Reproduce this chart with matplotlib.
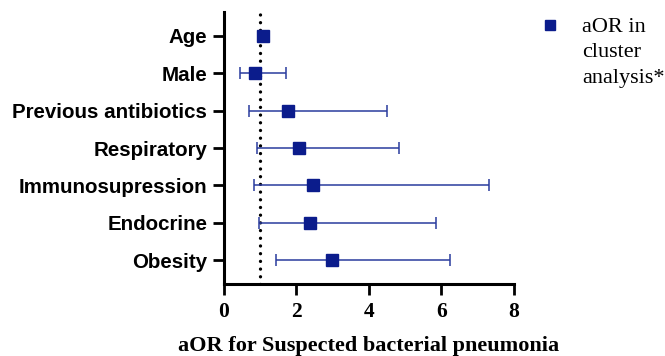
import matplotlib
matplotlib.use("Agg")
import matplotlib.pyplot as plt
from matplotlib.lines import Line2D
import numpy as np

# Adjusted odds ratios with 95% confidence intervals
categories = ["Age", "Male", "Previous antibiotics", "Respiratory",
              "Immunosupression", "Endocrine", "Obesity"]
aor = [1.08, 0.86, 1.77, 2.08, 2.46, 2.38, 2.99]
ci_low = [1.06, 0.44, 0.70, 0.91, 0.83, 0.97, 1.44]
ci_high = [1.10, 1.71, 4.51, 4.83, 7.31, 5.85, 6.23]
xticks = [0, 2, 4, 6, 8]
legend_label = "aOR in\ncluster\nanalysis*"

marker_color = "#0b1c8c"
bar_color = "#2a3c9e"

fig = plt.figure(figsize=(6.65, 3.56), dpi=100)
ax = fig.add_axes([0.3368, 0.2022, 0.4361, 0.7640])

n = len(categories)
ypos = np.arange(n, 0, -1)
aor_arr = np.array(aor)
xerr = np.vstack([aor_arr - np.array(ci_low), np.array(ci_high) - aor_arr])

# reference line at OR = 1
ax.axvline(1, color="black", linewidth=2.4, linestyle=(0, (0.01, 2.3)),
           dash_capstyle="round", zorder=1)

ax.errorbar(aor, ypos, xerr=xerr, fmt="none", ecolor=bar_color,
            elinewidth=1.1, capsize=4, capthick=1.1, zorder=2)
ax.plot(aor, ypos, linestyle="none", marker="s", markersize=8.3,
        color=marker_color, zorder=3)

ax.set_xlim(0, 8)
ax.set_ylim(1 - 0.64, n + 0.64)
ax.set_xticks(xticks)
ax.set_xticklabels([str(t) for t in xticks], fontfamily="Liberation Serif",
                   fontweight="bold", fontsize=15.5)
ax.set_yticks(ypos)
ax.set_yticklabels(categories, fontfamily="Liberation Sans",
                   fontweight="bold", fontsize=14.8)

for side in ("top", "right"):
    ax.spines[side].set_visible(False)
for side in ("left", "bottom"):
    ax.spines[side].set_linewidth(2.2)
ax.tick_params(axis="both", length=8, width=2.0, color="black")
ax.tick_params(axis="x", pad=5)
ax.tick_params(axis="y", pad=4)

ax.set_xlabel("aOR for Suspected bacterial pneumonia",
              fontfamily="Liberation Serif", fontweight="bold", fontsize=16,
              labelpad=10)

# legend: marker key plus wrapped label
fig.add_artist(Line2D([550 / 665], [1 - 25 / 356], transform=fig.transFigure,
                      linestyle="none", marker="s", markersize=7.5,
                      color=marker_color))
fig.text(582 / 665, 1 - 18 / 356, legend_label, ha="left", va="top",
         fontfamily="Liberation Serif", fontsize=16, linespacing=1.45)

fig.savefig("out.png", dpi=100)
